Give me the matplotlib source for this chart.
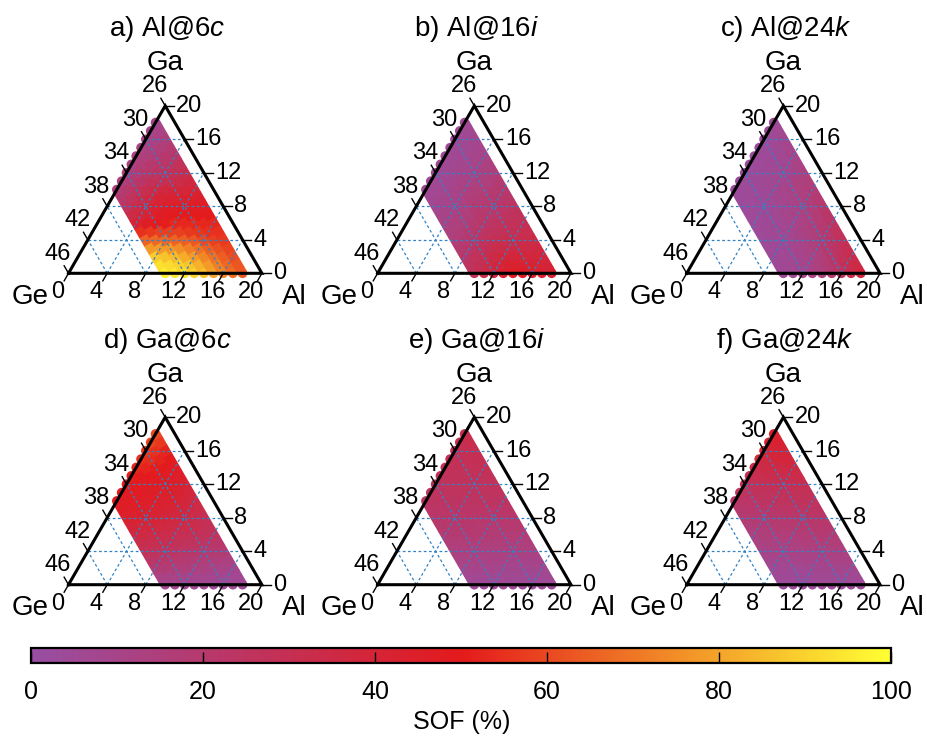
import numpy as np
import matplotlib
matplotlib.use('Agg')
import matplotlib.pyplot as plt
from matplotlib.colors import LinearSegmentedColormap, Normalize
from matplotlib.cm import ScalarMappable
from matplotlib.collections import LineCollection

plt.rcParams['font.family'] = ['Liberation Sans', 'DejaVu Sans']
plt.rcParams['mathtext.fontset'] = 'custom'
plt.rcParams['mathtext.rm'] = 'Liberation Sans'
plt.rcParams['mathtext.it'] = 'Liberation Sans:italic'

# SOF (%) on the composition grid. Row i is Ga = i; inside a row Al runs
# from max(0, 10 - Ga) up to 18 - Ga (Ge = 46 - Ga - Al).
sof_al_6c = [
    [96, 95, 93, 90, 86, 80, 74, 68, 64],
    [93, 92, 90, 87, 83, 78, 72, 67, 63],
    [88, 87, 85, 82, 78, 74, 69, 65, 61],
    [78, 78, 77, 75, 72, 69, 65, 62, 59],
    [66, 67, 67, 66, 65, 63, 60, 58, 57],
    [55, 57, 58, 58, 58, 57, 56, 55, 55],
    [42, 46, 49, 51, 53, 53, 53, 53, 53],
    [34, 38, 42, 46, 49, 50, 50, 50, 50],
    [26, 33, 39, 43, 46, 47, 47, 48, 48],
    [20, 26, 32, 37, 41, 42, 43, 44, 44],
    [15, 20, 26, 31, 35, 37, 38, 39, 40],
    [14, 18, 22, 27, 29, 31, 33, 36],
    [13, 17, 22, 24, 27, 29, 32],
    [12, 17, 20, 22, 24, 27],
    [12, 15, 17, 20, 22],
    [11, 13, 15, 18],
    [10, 12, 15],
    [9, 11],
    [8],
]
sof_al_16i = [
    [28, 33, 38, 43, 47, 47, 45, 43, 42],
    [25, 29, 34, 38, 42, 43, 42, 41, 40],
    [22, 26, 30, 34, 38, 39, 39, 38, 38],
    [19, 22, 26, 29, 33, 34, 35, 35, 36],
    [16, 19, 22, 26, 30, 31, 32, 33, 34],
    [14, 16, 19, 22, 25, 27, 29, 30, 31],
    [12, 14, 16, 19, 22, 24, 26, 27, 29],
    [10, 12, 14, 16, 20, 21, 23, 25, 27],
    [8, 10, 12, 14, 18, 19, 21, 23, 25],
    [7, 8, 10, 12, 15, 17, 19, 20, 22],
    [5, 7, 8, 10, 13, 15, 16, 18, 20],
    [5, 6, 8, 11, 12, 14, 15, 18],
    [5, 6, 8, 10, 12, 13, 15],
    [5, 6, 8, 9, 11, 13],
    [5, 6, 7, 9, 11],
    [5, 6, 7, 9],
    [5, 6, 8],
    [5, 6],
    [5],
]
sof_al_24k = [
    [5, 6, 8, 11, 14, 19, 26, 32, 38],
    [5, 6, 8, 10, 13, 17, 23, 29, 35],
    [5, 6, 7, 9, 12, 16, 21, 27, 32],
    [4, 5, 7, 9, 11, 15, 19, 24, 30],
    [4, 5, 6, 8, 11, 14, 18, 22, 28],
    [4, 5, 6, 8, 10, 13, 16, 20, 26],
    [4, 5, 6, 7, 9, 12, 15, 19, 24],
    [4, 4, 5, 7, 9, 11, 14, 17, 22],
    [3, 4, 5, 6, 8, 10, 13, 16, 20],
    [3, 4, 5, 6, 8, 9, 12, 15, 18],
    [3, 4, 4, 5, 7, 9, 11, 14, 17],
    [3, 4, 5, 6, 8, 10, 13, 15],
    [3, 4, 5, 6, 8, 10, 13],
    [3, 4, 5, 6, 8, 11],
    [3, 4, 5, 7, 10],
    [3, 4, 6, 9],
    [4, 5, 8],
    [4, 6],
    [5],
]
sof_ga_6c = [
    [7, 7, 6, 6, 6, 5, 5, 5, 5],
    [12, 11, 11, 10, 9, 8, 8, 7, 7],
    [18, 17, 16, 15, 14, 13, 12, 11, 10],
    [23, 22, 21, 19, 18, 17, 16, 15, 14],
    [28, 27, 26, 24, 23, 22, 20, 19, 18],
    [32, 31, 30, 29, 27, 26, 25, 23, 22],
    [36, 35, 34, 33, 31, 30, 29, 27, 26],
    [40, 39, 38, 37, 35, 34, 33, 31, 28],
    [44, 43, 42, 40, 39, 37, 36, 33, 30],
    [46, 45, 44, 43, 42, 40, 39, 36, 33],
    [47, 47, 46, 45, 44, 43, 42, 39, 36],
    [48, 48, 47, 46, 45, 44, 42, 39],
    [49, 49, 48, 47, 46, 45, 42],
    [51, 50, 49, 48, 47, 45],
    [53, 52, 51, 49, 47],
    [55, 54, 52, 50],
    [57, 55, 52],
    [59, 57],
    [60],
]
sof_ga_16i = [
    [4, 4, 4, 4, 4, 4, 4, 4, 4],
    [7, 7, 7, 6, 6, 6, 6, 6, 6],
    [9, 9, 9, 9, 8, 8, 8, 8, 8],
    [12, 12, 11, 11, 11, 11, 10, 10, 10],
    [14, 14, 14, 14, 13, 13, 13, 13, 13],
    [16, 16, 16, 16, 15, 15, 15, 15, 15],
    [18, 18, 18, 18, 18, 17, 17, 17, 17],
    [20, 20, 20, 20, 19, 19, 19, 19, 19],
    [22, 22, 22, 22, 21, 21, 21, 21, 21],
    [23, 23, 23, 23, 23, 23, 23, 23, 23],
    [24, 24, 24, 24, 24, 24, 24, 24, 24],
    [25, 25, 25, 25, 25, 25, 25, 25],
    [26, 26, 26, 26, 26, 26, 27],
    [27, 27, 27, 27, 27, 28],
    [28, 28, 28, 28, 29],
    [29, 29, 29, 30],
    [30, 30, 31],
    [31, 32],
    [32],
]
sof_ga_24k = [
    [3, 3, 3, 3, 4, 4, 4, 4, 4],
    [5, 5, 5, 5, 6, 6, 6, 6, 6],
    [6, 7, 7, 7, 8, 8, 8, 8, 9],
    [8, 9, 9, 9, 10, 10, 10, 11, 11],
    [10, 11, 11, 12, 12, 12, 13, 13, 14],
    [12, 13, 13, 14, 14, 15, 15, 16, 16],
    [14, 15, 15, 16, 16, 17, 17, 18, 18],
    [16, 17, 17, 18, 18, 19, 19, 20, 20],
    [18, 19, 19, 20, 20, 21, 21, 22, 22],
    [20, 21, 21, 22, 22, 23, 23, 24, 24],
    [22, 23, 23, 24, 24, 25, 25, 26, 26],
    [25, 25, 26, 26, 27, 27, 28, 28],
    [28, 28, 29, 29, 30, 30, 31],
    [31, 31, 32, 32, 33, 33],
    [34, 34, 35, 35, 36],
    [37, 37, 38, 38],
    [39, 40, 40],
    [42, 42],
    [44],
]

panels = [sof_al_6c, sof_al_16i, sof_al_24k, sof_ga_6c, sof_ga_16i, sof_ga_24k]
titles = [r'a) Al@6$\it{c}$', r'b) Al@16$\it{i}$', r'c) Al@24$\it{k}$',
          r'd) Ga@6$\it{c}$', r'e) Ga@16$\it{i}$', r'f) Ga@24$\it{k}$']

axis_ticks = [0, 4, 8, 12, 16, 20]
ge_labels = [46, 42, 38, 34, 30, 26]
sof_ticks = [0, 20, 40, 60, 80, 100]

cmap = LinearSegmentedColormap.from_list('sof', ['#984EA3', '#E41A1C', '#FFFF33'])
norm = Normalize(0, 100)

W, H = 927, 738
PX = 9.67                       # pixels per atom along a triangle edge
XL, XR, YB, YT = -7.0, 27.0, -5.5, 22.5
corner_x = [68.5, 377.6, 686.7]  # lower-left corner of each column
corner_y = [273.3, 584.7]        # base line of each row
h = np.sqrt(3) / 2
TICK = 0.9
BAND = PX * 0.72                 # one atom, in points
grid_kw = dict(color='#3282c4', lw=0.9, ls=(0, (2.2, 2.0)), zorder=20)
step = np.array([-0.5, h])       # Ga +1 / Al -1 along a constant-Ge row


def tern(al, ga):
    return al + ga / 2, ga * h


fig = plt.figure(figsize=(W / 100, H / 100), dpi=100)

for idx, (rows, title) in enumerate(zip(panels, titles)):
    x0 = corner_x[idx % 3]
    yb = corner_y[idx // 3]
    ax = fig.add_axes([(x0 + XL * PX) / W, 1 - (yb - YB * PX) / H,
                       (XR - XL) * PX / W, (YT - YB) * PX / H])
    ax.set_xlim(XL, XR)
    ax.set_ylim(YB, YT)
    ax.set_axis_off()

    ga, al, val = [], [], []
    for g, row in enumerate(rows):
        start = max(0, 10 - g)
        for j, v in enumerate(row):
            ga.append(g)
            al.append(start + j)
            val.append(v)
    ga = np.array(ga)
    al = np.array(al)
    val = np.array(val, float)

    # each constant-Ge row is a thick band with round ends
    for k in range(10, 19):
        m = (al + ga) == k
        g_row, a_row, v_row = ga[m], al[m], val[m]
        cx, cy = tern(a_row, g_row)
        lo = np.maximum(g_row - 0.53, 0) - g_row
        hi = np.minimum(g_row + 0.53, k) - g_row
        segs = [[(x + a * step[0], y + a * step[1]), (x + b * step[0], y + b * step[1])]
                for x, y, a, b in zip(cx, cy, lo, hi)]
        lc = LineCollection(segs, array=v_row, cmap=cmap, norm=norm,
                            linewidths=BAND, capstyle='butt', zorder=1 + k * 0.01)
        ax.add_collection(lc)
        ends = (g_row == 0) | (g_row == k)
        ax.scatter(cx[ends], cy[ends], c=v_row[ends], cmap=cmap, norm=norm,
                   s=BAND ** 2, linewidths=0, zorder=1.001 + k * 0.01, clip_on=False)

    # dotted composition grid
    for t in axis_ticks[1:-1]:
        for a, b in [(tern(0, t), tern(20 - t, t)),
                     (tern(t, 0), tern(t, 20 - t)),
                     (tern(t, 0), tern(0, t))]:
            ax.plot([a[0], b[0]], [a[1], b[1]], **grid_kw)

    # triangle frame
    tx, ty = tern(np.array([0, 20, 0, 0]), np.array([0, 0, 20, 0]))
    ax.plot(tx, ty, color='k', lw=2.2, solid_joinstyle='miter', zorder=30,
            clip_on=False)

    for t, ge in zip(axis_ticks, ge_labels):
        # bottom axis: Al
        px, py = tern(t, 0)
        ax.plot([px, px - 0.5 * TICK], [py, py - h * TICK], color='k', lw=1.0)
        ax.text(px - 1.15, py - 1.95, str(t), ha='center', va='center', fontsize=17)
        # right axis: Ga
        px, py = tern(20 - t, t)
        ax.plot([px, px + TICK], [py, py], color='k', lw=1.0)
        ax.text(px + 1.15, py, str(t), ha='left', va='center', fontsize=17)
        # left axis: Ge
        px, py = tern(0, t)
        ax.plot([px, px - 0.5 * TICK], [py, py + h * TICK], color='k', lw=1.0)
        ax.text(px - 1.1, py + 2.0, str(ge), ha='center', va='center', fontsize=17)

    ax.text(10, 20 * h + 3.69, 'Ga', ha='center', va='baseline', fontsize=20)
    ax.text(-3.96, -3.17, 'Ge', ha='center', va='baseline', fontsize=20)
    ax.text(23.34, -3.17, 'Al', ha='center', va='baseline', fontsize=20)
    ax.text(10.2, 20 * h + 7.18, title, ha='center', va='baseline', fontsize=20)

# colour bar
cax = fig.add_axes([31 / W, 1 - 663 / H, 860 / W, 15 / H])
cb = fig.colorbar(ScalarMappable(norm=norm, cmap=cmap), cax=cax,
                  orientation='horizontal')
cb.set_ticks(sof_ticks)
cax.tick_params(direction='in', length=8, width=1, pad=12, labelsize=18)
cb.outline.set_linewidth(1.6)
fig.text(462 / W, 1 - 722 / H, 'SOF (%)', ha='center', va='center', fontsize=18)

fig.savefig('out.png', dpi=100)
